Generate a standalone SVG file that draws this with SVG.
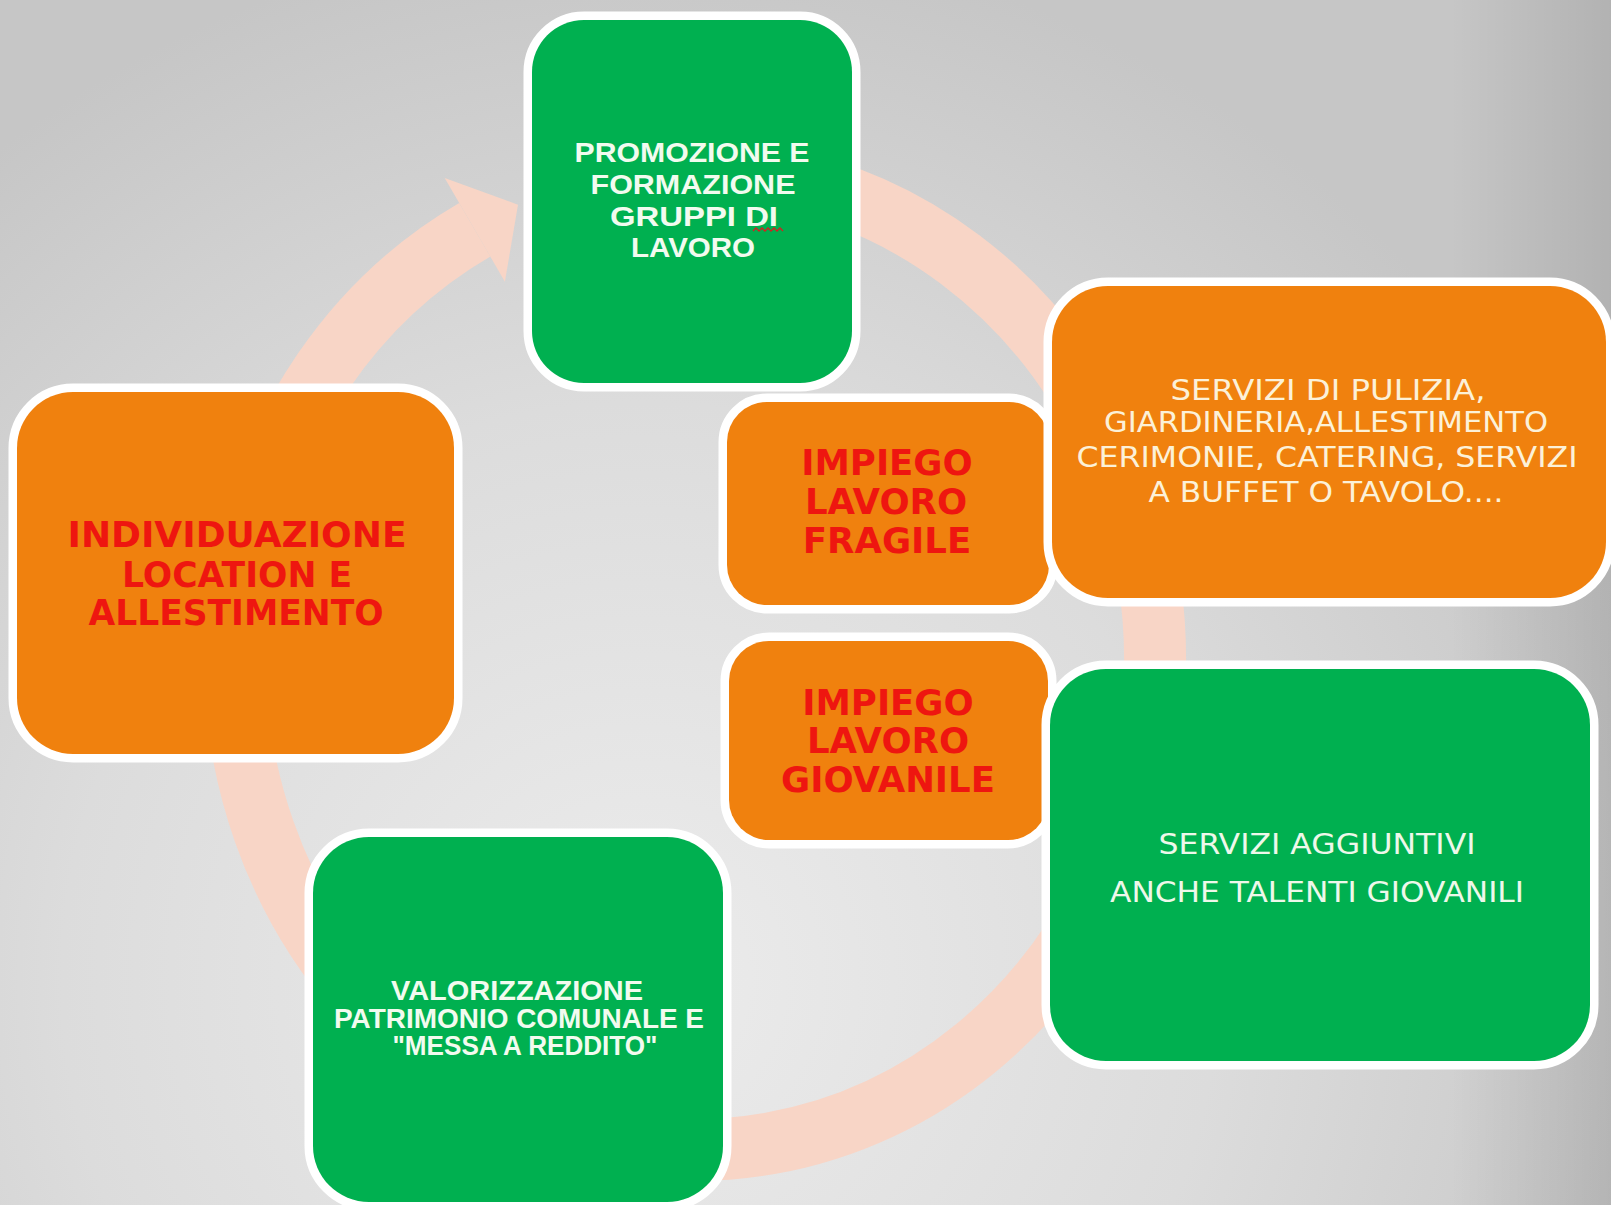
<svg xmlns="http://www.w3.org/2000/svg" width="1611" height="1205" viewBox="0 0 1611 1205">
<defs>
<radialGradient id="bg" cx="640" cy="980" r="1050" gradientUnits="userSpaceOnUse">
<stop offset="0" stop-color="#ececec"/>
<stop offset="0.55" stop-color="#dcdcdc"/>
<stop offset="1" stop-color="#c6c6c6"/>
</radialGradient>
<linearGradient id="edge" x1="1450" y1="0" x2="1611" y2="0" gradientUnits="userSpaceOnUse">
<stop offset="0" stop-color="#000" stop-opacity="0"/>
<stop offset="1" stop-color="#000" stop-opacity="0.1"/>
</linearGradient>
</defs>
<style>
.box{stroke:#ffffff;stroke-width:17;paint-order:stroke}
.g{fill:#00b050}
.o{fill:#f0810e}
.tw{font-family:"Liberation Sans",Arial,sans-serif;font-weight:bold;fill:#f2fbef;text-anchor:middle}
.tr{font-family:"DejaVu Sans",Verdana,sans-serif;font-weight:bold;fill:#ee1610;text-anchor:middle;font-size:35.5px}
.tc{font-family:"DejaVu Sans",Verdana,sans-serif;fill:#fcf1d8;text-anchor:middle;font-size:28px}
.tg{font-family:"DejaVu Sans",Verdana,sans-serif;fill:#eef8ea;text-anchor:middle;font-size:28px}
.ring{fill:none;stroke:#f8d5c6;stroke-width:62}
</style>
<rect x="0" y="0" width="1611" height="1205" fill="url(#bg)"/>
<rect x="1450" y="0" width="161" height="1205" fill="url(#edge)"/>

<g id="connectors">
<path class="ring" d="M 774.9 177.4 A 460 490 0 1 1 474.8 229.8"/>
<polygon points="444.7,177.9 518,204.7 504.9,281.7" fill="#f8d5c6"/>
</g>

<g id="node-promozione">
<rect class="box g" x="532" y="20" width="320" height="363" rx="52"/>
<text class="tw" font-size="28" x="692" y="162" textLength="235" lengthAdjust="spacingAndGlyphs">PROMOZIONE E</text>
<text class="tw" font-size="28" x="693" y="194" textLength="205" lengthAdjust="spacingAndGlyphs">FORMAZIONE</text>
<text class="tw" font-size="28" x="694" y="226" textLength="168" lengthAdjust="spacingAndGlyphs">GRUPPI DI</text>
<text class="tw" font-size="28" x="693" y="257" textLength="124" lengthAdjust="spacingAndGlyphs">LAVORO</text>
<polyline points="753,231 756,228 759,231 762,228 765,231 768,228 771,231 774,228 777,231 780,228 783,231" fill="none" stroke="#d42020" stroke-width="1.3"/>
</g>

<g id="node-individuazione">
<rect class="box o" x="17" y="392" width="437" height="362" rx="56"/>
<text class="tr" x="237" y="547" textLength="339" lengthAdjust="spacingAndGlyphs">INDIVIDUAZIONE</text>
<text class="tr" x="237" y="587" textLength="230" lengthAdjust="spacingAndGlyphs">LOCATION E</text>
<text class="tr" x="236" y="625" textLength="295" lengthAdjust="spacingAndGlyphs">ALLESTIMENTO</text>
</g>

<g id="node-fragile">
<rect class="box o" x="727" y="402" width="322" height="203" rx="40"/>
<text class="tr" x="887" y="475">IMPIEGO</text>
<text class="tr" x="886" y="514">LAVORO</text>
<text class="tr" x="887" y="553">FRAGILE</text>
</g>

<g id="node-servizi-pulizia">
<rect class="box o" x="1052" y="286" width="554" height="312" rx="56"/>
<text class="tc" x="1328" y="400" textLength="315" lengthAdjust="spacingAndGlyphs">SERVIZI DI PULIZIA,</text>
<text class="tc" x="1326" y="432" textLength="444" lengthAdjust="spacingAndGlyphs">GIARDINERIA,ALLESTIMENTO</text>
<text class="tc" x="1327" y="467" textLength="501" lengthAdjust="spacingAndGlyphs">CERIMONIE,  CATERING,  SERVIZI</text>
<text class="tc" x="1326" y="502" textLength="355" lengthAdjust="spacingAndGlyphs">A BUFFET  O TAVOLO....</text>
</g>

<g id="node-giovanile">
<rect class="box o" x="729" y="641" width="319" height="199" rx="40"/>
<text class="tr" x="888" y="715">IMPIEGO</text>
<text class="tr" x="888" y="753">LAVORO</text>
<text class="tr" x="888" y="792">GIOVANILE</text>
</g>

<g id="node-servizi-aggiuntivi">
<rect class="box g" x="1050" y="669" width="540" height="392" rx="56"/>
<text class="tg" x="1317" y="854" textLength="317" lengthAdjust="spacingAndGlyphs">SERVIZI AGGIUNTIVI</text>
<text class="tg" x="1317" y="902" textLength="414" lengthAdjust="spacingAndGlyphs">ANCHE TALENTI  GIOVANILI</text>
</g>

<g id="node-valorizzazione">
<rect class="box g" x="313" y="837" width="410" height="365" rx="56"/>
<text class="tw" font-size="27" x="517" y="1000" textLength="252" lengthAdjust="spacingAndGlyphs">VALORIZZAZIONE</text>
<text class="tw" font-size="27" x="519" y="1028" textLength="370" lengthAdjust="spacingAndGlyphs">PATRIMONIO COMUNALE E</text>
<text class="tw" font-size="27" x="525" y="1055" textLength="265" lengthAdjust="spacingAndGlyphs">"MESSA A REDDITO"</text>
</g>
</svg>
